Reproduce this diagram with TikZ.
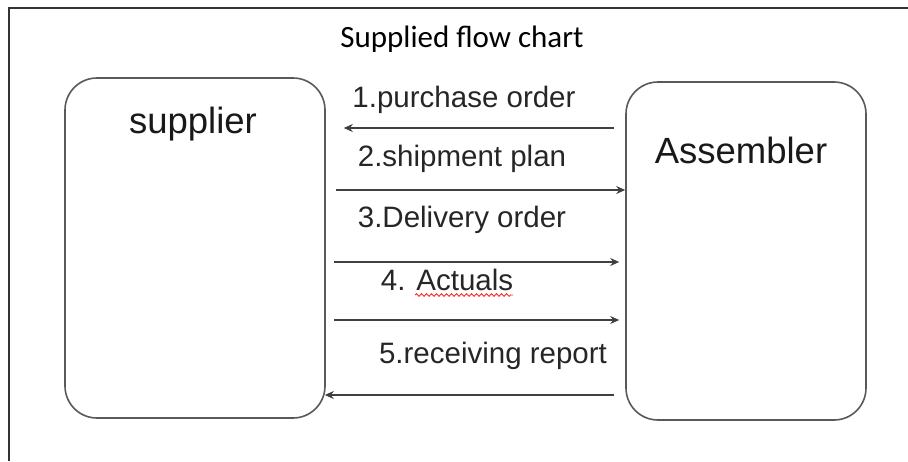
\documentclass[tikz,border=0pt]{standalone}
\usepackage{fontspec}
\setmainfont{Liberation Sans}
\newfontfamily\titlefont{Carlito}
\usetikzlibrary{arrows.meta, decorations.pathmorphing}

\begin{document}
\begin{tikzpicture}[x=1pt, y=-1pt,
		party/.style={draw=black!65, line width=1.6pt, rounded corners=32pt, inner sep=0pt},
		msg/.style={draw=black!75, line width=2pt, -{Stealth[length=9pt, width=8pt]}},
		lbl/.style={anchor=base, inner sep=0pt, text=black!85, font=\fontsize{29.5}{32}\selectfont},
		big/.style={anchor=base, inner sep=0pt, text=black!90, font=\fontsize{36.5}{40}\selectfont},
		spell/.style={draw=red!85, line width=0.9pt, decorate, decoration={snake, segment length=5pt, amplitude=1.3pt}}]
		\useasboundingbox (0,0) rectangle (908,461);
		\draw[black!80, line width=2pt] (9,461) -- (9,8) -- (908,8);

		\node [anchor=base, inner sep=0pt, font=\titlefont\fontsize{31}{34}\selectfont] (title) at (462,47) {Supplied flow chart};

		\node [party, minimum width=260pt, minimum height=340pt] (sup) at (195,248) {};
		\node [party, minimum width=240pt, minimum height=338pt] (asm) at (746,251) {};
		\node [big] (suptext) at (193,133) {supplier};
		\node [big] (asmtext) at (741,163) {Assembler};

		\node [lbl] (po) at (464,107) {1.purchase order};
		\node [lbl] (sp) at (462,166) {2.shipment plan};
		\node [lbl] (do) at (462,227) {3.Delivery order};
		\node [lbl] (act) at (447,290) {4. Actuals};
		\node [lbl] (rr) at (493,363) {5.receiving report};
		\draw[spell] (415,295) -- (513,295);

		\draw[msg, shorten <=11pt, shorten >=18pt] (asm.west |- 0,128) -- (sup.east |- 0,128);
		\draw[msg, shorten <=10pt, shorten >=0pt] (sup.east |- 0,190) -- (asm.west |- 0,190);
		\draw[msg, shorten <=8pt, shorten >=6pt] (sup.east |- 0,262) -- (asm.west |- 0,262);
		\draw[msg, shorten <=8pt, shorten >=6pt] (sup.east |- 0,320) -- (asm.west |- 0,320);
		\draw[msg, shorten <=11pt, shorten >=-1pt] (asm.west |- 0,395) -- (sup.east |- 0,395);
	\end{tikzpicture}
\end{document}
